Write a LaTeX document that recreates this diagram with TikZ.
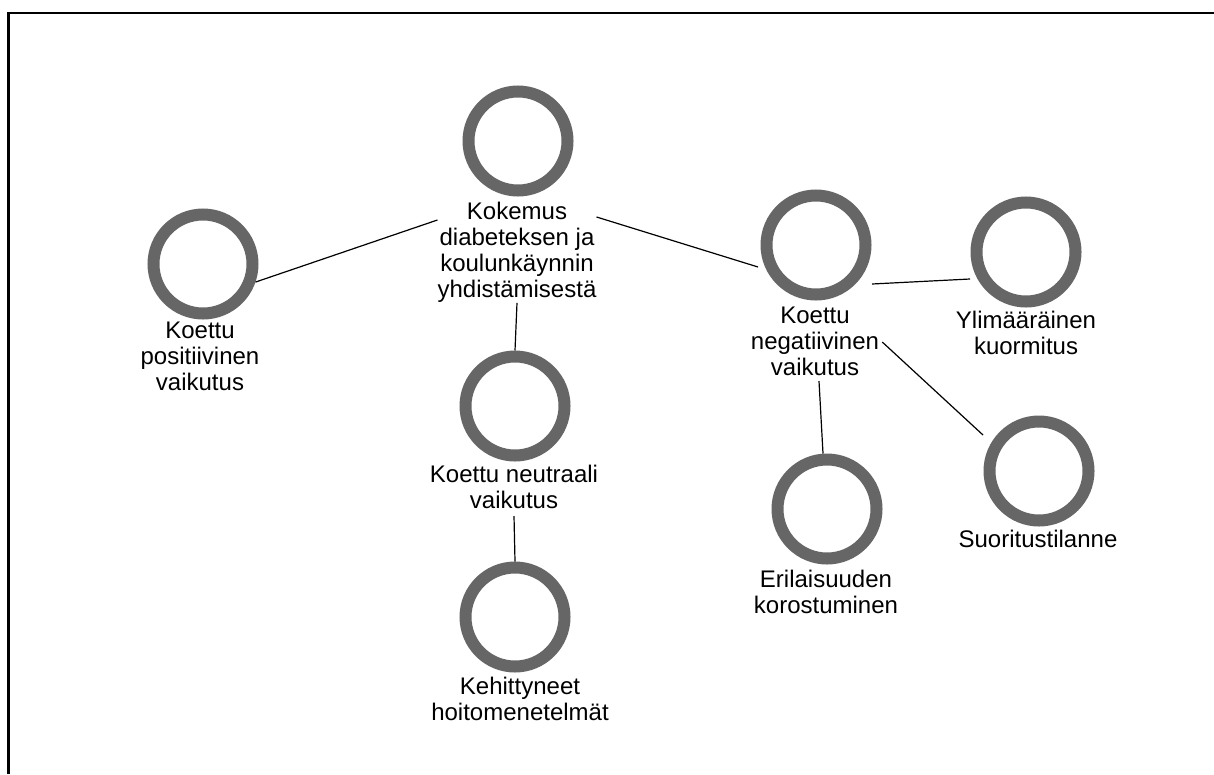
\documentclass[tikz,border=0pt]{standalone}
\usepackage{fontspec}
\setmainfont{Liberation Sans}
\definecolor{ringgray}{HTML}{666666}
\begin{document}
\begin{tikzpicture}[x=1pt,y=-1pt,
  ring/.style={circle,draw=ringgray,line width=12pt,minimum size=99pt,inner sep=0pt},
  lbl/.style={anchor=north,align=center,inner sep=0pt,font=\fontsize{24}{26}\selectfont},
  link/.style={draw=black,line width=1.2pt}]
\useasboundingbox (0,0) rectangle (1214,774);
% frame edges
\draw[line width=2.5pt] (8.7,774) -- (8.7,13) -- (1214,13);

% concept circles and their captions
\node[ring] (top) at (518,141) {};
\node[lbl] (topL) at (517,202) {Kokemus\\diabeteksen ja\\koulunkäynnin\\yhdistämisestä};
\node[ring] (pos) at (203,264) {};
\node[lbl] (posL) at (200,322) {Koettu\\positiivinen\\vaikutus};
\node[ring] (neu) at (515,406) {};
\node[lbl] (neuL) at (514,465) {Koettu neutraali\\vaikutus};
\node[ring] (hoi) at (515,617) {};
\node[lbl] (hoiL) at (520,677) {Kehittyneet\\hoitomenetelmät};
\node[ring] (neg) at (816,245) {};
\node[lbl] (negL) at (815,307) {Koettu\\negatiivinen\\vaikutus};
\node[ring] (yli) at (1026,252) {};
\node[lbl] (yliL) at (1026,311) {Ylimääräinen\\kuormitus};
\node[ring] (eri) at (827,509) {};
\node[lbl] (eriL) at (826,570) {Erilaisuuden\\korostuminen};
\node[ring] (suo) at (1039,471) {};
\node[lbl] (suoL) at (1038,530) {Suoritustilanne};

% connectors
\draw[link] (pos.-19) -- ([yshift=-18pt]topL.north west);
\draw[link] ([yshift=-15pt]topL.north east) -- ([shift={(-58,22)}]neg.center);
\draw[link] (topL.south) -- (neu.north);
\draw[link] ([yshift=-7pt]neuL.south) -- (hoi.north);
\draw[link] ([shift={(56,39)}]neg.center) -- ([shift={(-56,27)}]yli.center);
\draw[link] ([shift={(4,5)}]negL.south) -- ([xshift=-4pt]eri.north);
\draw[link] ([shift={(3,35)}]negL.north east) -- ([shift={(-56,-36)}]suo.center);
\end{tikzpicture}
\end{document}
